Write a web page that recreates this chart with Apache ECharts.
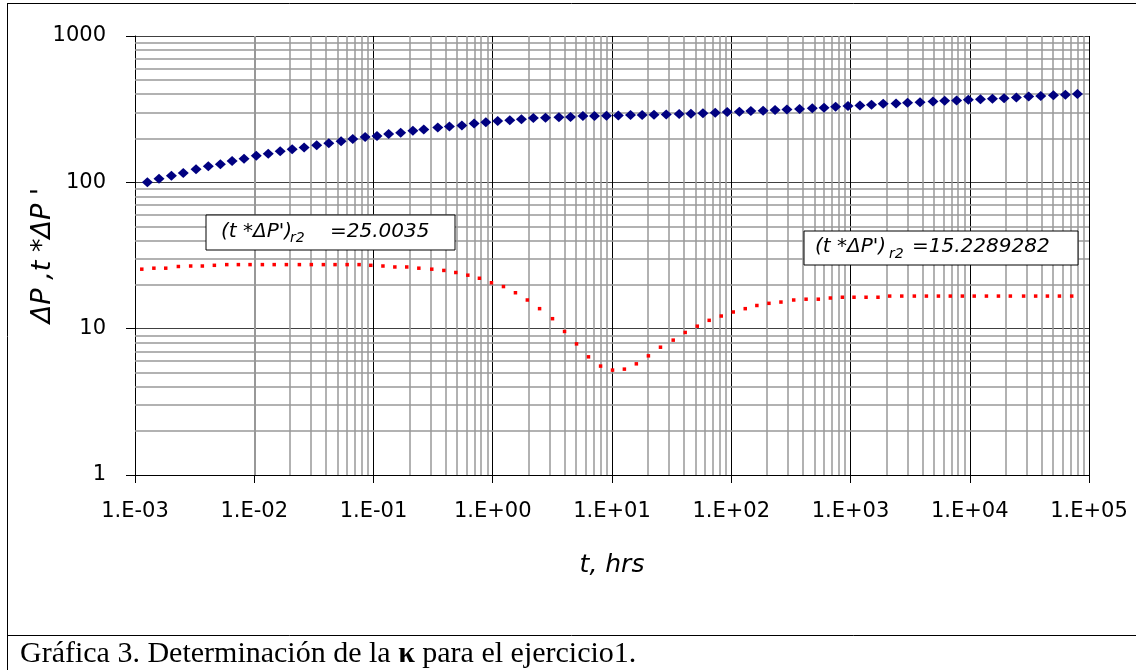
<!DOCTYPE html>
<html>
<head>
<meta charset="utf-8">
<script src="https://cdn.jsdelivr.net/npm/echarts@6/dist/echarts.min.js"></script>
<style>
  html, body { margin: 0; padding: 0; background: #ffffff; }
  #chart { width: 1136px; height: 670px; }
</style>
</head>
<body>
<div id="chart"></div>
<script>
// Pressure change ΔP (psi) against elapsed time t (hrs)
const timeDP = [
  0.00127, 0.00159, 0.00202, 0.00254, 0.00325, 0.00412, 0.00520, 0.00652, 0.00821,
  0.0104, 0.0131, 0.0165, 0.0208, 0.0262, 0.0334, 0.0422, 0.0535, 0.0670, 0.0851,
  0.107, 0.134, 0.169, 0.214, 0.264, 0.346, 0.433, 0.551, 0.698, 0.875,
  1.10, 1.39, 1.74, 2.19, 2.77, 3.59, 4.49, 5.70, 7.13, 8.99,
  11.3, 14.3, 17.9, 22.5, 28.5, 36.6, 45.9, 57.9, 73.4, 92.5,
  117, 146, 185, 233, 293, 374, 478, 600, 750, 953,
  1200, 1500, 1880, 2410, 3010, 3830, 4920, 6160, 7760, 9730,
  12300, 15500, 19400, 24600, 31200, 39400, 50300, 63400, 80000
];
const deltaP = [
  100, 106, 111, 116, 123, 129, 133, 140, 145,
  152, 157, 163, 168, 173, 179, 185, 191, 198, 204,
  207, 214, 218, 225, 230, 237, 241, 245, 252, 257,
  262, 266, 270, 275, 276, 279, 280, 284, 284, 285,
  286, 288, 289, 290, 291, 293, 294, 297, 299, 302,
  304, 307, 309, 312, 315, 317, 321, 323, 328, 333,
  335, 339, 344, 346, 350, 353, 357, 361, 363, 367,
  369, 372, 375, 380, 386, 389, 394, 396, 401
];

// Pressure derivative t*ΔP' (psi)
const timeDer = [
  0.00114, 0.00144, 0.00181, 0.00231, 0.00293, 0.00367, 0.00463, 0.00588, 0.00736,
  0.00922, 0.0117, 0.0147, 0.0186, 0.0239, 0.0301, 0.0380, 0.0476, 0.0601, 0.0757,
  0.0949, 0.120, 0.151, 0.190, 0.240, 0.308, 0.389, 0.490, 0.618, 0.773,
  0.975, 1.23, 1.55, 1.95, 2.47, 3.17, 4.00, 5.04, 6.35, 8.02,
  10.1, 12.7, 16.0, 20.2, 25.5, 32.6, 41.1, 51.9, 65.3, 82.4,
  104, 131, 164, 207, 261, 334, 424, 537, 678, 855,
  1070, 1350, 1700, 2130, 2690, 3430, 4330, 5460, 6870, 8670,
  10900, 13800, 17400, 21900, 28300, 35700, 44800, 56500, 71600
];
const derivative = [
  25.5, 25.9, 25.9, 26.6, 26.8, 26.8, 27.1, 27.4, 27.4,
  27.4, 27.4, 27.4, 27.4, 27.4, 27.4, 27.4, 27.4, 27.4, 27.4,
  27.1, 26.8, 26.4, 26.4, 25.9, 25.5, 25.0, 24.2, 23.2, 22.1,
  20.6, 19.4, 17.6, 15.7, 13.7, 11.7, 9.57, 7.87, 6.42, 5.55,
  5.21, 5.29, 5.75, 6.52, 7.47, 8.35, 9.42, 10.4, 11.4, 12.2,
  13.0, 13.7, 14.4, 14.9, 15.2, 15.7, 15.9, 15.9, 16.2, 16.4,
  16.4, 16.4, 16.4, 16.7, 16.7, 16.7, 16.7, 16.7, 16.7, 16.7,
  16.7, 16.7, 16.7, 16.7, 16.7, 16.7, 16.7, 16.7, 16.7
];

// Axis ranges (decades)
const xRange = [0.001, 100000];
const yRange = [1, 1000];

// Radial-flow derivative annotations
const annotationLeft = '=25.0035';
const annotationRight = '=15.2289282';
const captionText = 'Gráfica 3. Determinación de la {b|κ} para el ejercicio1.';

// Intermediate (2..9) log grid lines
function minorGrid(lo, hi) {
  const out = [];
  for (let d = lo; d < hi; d *= 10) {
    for (let m = 2; m <= 9; m++) out.push(+(m * d).toPrecision(3));
  }
  return out;
}
const xMinor = minorGrid(xRange[0], xRange[1]);
const yMinor = minorGrid(yRange[0], yRange[1]);

function sciLabel(v) {
  const e = Math.round(Math.log10(v));
  const s = e < 0 ? '-' : '+';
  const a = Math.abs(e);
  return '1.E' + s + (a < 10 ? '0' : '') + a;
}

const SANS = 'DejaVu Sans';
const TOP = 50;
const chart = echarts.init(document.getElementById('chart'), null, { renderer: 'canvas' });

function annotation(x, y, w, h, tx, subX, valX, value) {
  const textStyle = { fontFamily: SANS, fontStyle: 'italic', fill: '#000', verticalAlign: 'middle', align: 'left' };
  return [
    { type: 'rect', z: TOP, shape: { x: x, y: y, width: w, height: h },
      style: { fill: '#ffffff', stroke: '#000000', lineWidth: 1 } },
    { type: 'text', z: TOP + 1, x: tx, y: y + h / 2 - 1,
      style: Object.assign({ text: "(t *ΔP')", fontSize: 20 }, textStyle) },
    { type: 'text', z: TOP + 1, x: subX, y: y + h / 2 + 6,
      style: Object.assign({ text: 'r2', fontSize: 14 }, textStyle) },
    { type: 'text', z: TOP + 1, x: valX, y: y + h / 2 - 1,
      style: Object.assign({ text: value, fontSize: 20 }, textStyle) }
  ];
}

const option = {
  animation: false,
  backgroundColor: '#ffffff',
  grid: { left: 135, right: 47, top: 36, bottom: 195, containLabel: false },
  xAxis: {
    type: 'log', logBase: 10, min: xRange[0], max: xRange[1], splitNumber: 8,
    axisLine: { show: true, lineStyle: { color: '#000', width: 1 } },
    axisTick: { show: true, inside: false, length: 8, lineStyle: { color: '#000', width: 1 } },
    axisLabel: { formatter: sciLabel, fontFamily: SANS, fontSize: 21, color: '#000', margin: 26 },
    splitLine: { show: true, lineStyle: { color: '#000', width: 1 } },
    name: 't, hrs', nameLocation: 'middle', nameGap: 78, nameMoveOverlap: false,
    nameTextStyle: { fontFamily: SANS, fontStyle: 'italic', fontSize: 25, color: '#000' }
  },
  yAxis: {
    type: 'log', logBase: 10, min: yRange[0], max: yRange[1], splitNumber: 3,
    axisLine: { show: true, lineStyle: { color: '#000', width: 1 } },
    axisTick: { show: true, inside: false, length: 9, lineStyle: { color: '#000', width: 1 } },
    axisLabel: { formatter: v => String(Math.round(v)), fontFamily: SANS, fontSize: 21, color: '#000', margin: 29 },
    splitLine: { show: true, lineStyle: { color: '#404040', width: 1 } },
    name: "ΔP ,t *ΔP '", nameLocation: 'middle', nameRotate: 90, nameGap: 79, nameMoveOverlap: false,
    nameTextStyle: { fontFamily: SANS, fontStyle: 'italic', fontSize: 27, color: '#000' }
  },
  series: [
    {
      name: 'grid', type: 'line', data: [], z: 1, silent: true,
      markLine: {
        silent: true, symbol: 'none', animation: false, z: 1,
        label: { show: false },
        lineStyle: { color: '#999999', type: 'solid', width: 1.5 },
        data: xMinor.map(v => ({ xAxis: v })).concat(yMinor.map(v => ({ yAxis: v })))
      }
    },
    {
      name: "t*ΔP'", type: 'scatter', z: 3,
      data: timeDer.map((t, i) => [t, derivative[i]]),
      symbol: 'rect', symbolSize: 3.5,
      itemStyle: { color: '#ff0000', opacity: 1 }
    },
    {
      name: 'ΔP', type: 'scatter', z: 4,
      data: timeDP.map((t, i) => [t, deltaP[i]]),
      symbol: 'diamond', symbolSize: [11, 10],
      itemStyle: { color: '#000080', opacity: 1 }
    }
  ],
  graphic: [].concat(
    annotation(206, 215, 249, 35, 221, 290, 330, annotationLeft),
    annotation(804, 231, 274, 34, 815, 889, 912, annotationRight),
    [
      // outer frame and caption cell
      { type: 'line', z: TOP, shape: { x1: 7, y1: 3.5, x2: 1136, y2: 3.5 }, style: { stroke: '#000', lineWidth: 1 } },
      { type: 'line', z: TOP, shape: { x1: 7.5, y1: 3, x2: 7.5, y2: 670 }, style: { stroke: '#000', lineWidth: 1 } },
      { type: 'line', z: TOP, shape: { x1: 7, y1: 635.5, x2: 1136, y2: 635.5 }, style: { stroke: '#000', lineWidth: 1 } },
      {
        type: 'text', z: TOP, x: 20, y: 654,
        style: {
          text: captionText, fontFamily: 'Liberation Serif', fontSize: 30, fill: '#000',
          verticalAlign: 'middle', align: 'left',
          rich: { b: { fontFamily: 'Liberation Serif', fontSize: 30, fontWeight: 'bold', fill: '#000' } }
        }
      }
    ]
  )
};

chart.setOption(option);
</script>
</body>
</html>
